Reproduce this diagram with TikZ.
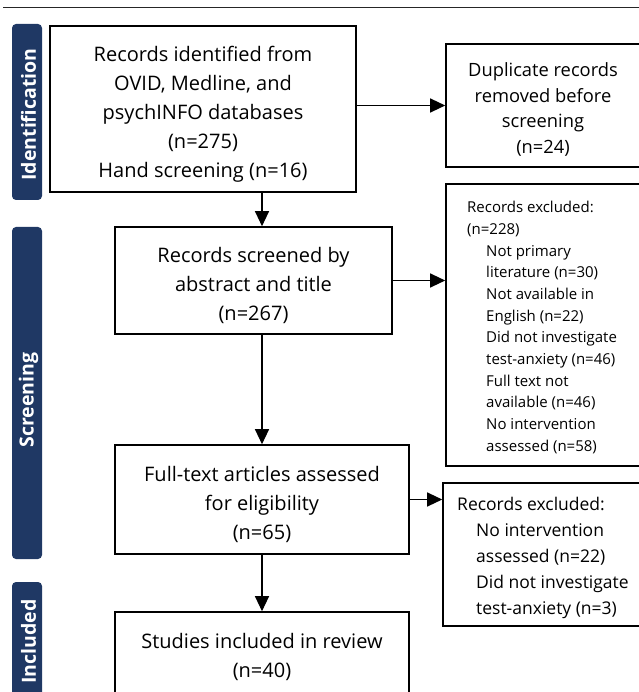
\documentclass[tikz,border=0pt]{standalone}
\usepackage{fontspec}
\setmainfont{Open Sans}
\usetikzlibrary{arrows.meta}
\definecolor{bandblue}{HTML}{1F3864}
\begin{document}
\begin{tikzpicture}[x=1pt,y=-1pt,
  plainbox/.style={draw=black, line width=1.6pt, inner sep=0pt},
  maintext/.style={align=center, inner sep=0pt, font=\fontsize{20}{29}\selectfont},
  listtext/.style={anchor=west, align=left, inner sep=0pt},
  arr/.style={-{Triangle[length=15pt,width=14pt]}, line width=1.2pt},
  band/.style={fill=bandblue, rounded corners=4pt, inner sep=0pt, minimum width=30pt},
  bandlabel/.style={rotate=90, inner sep=0pt, text=white,
    font=\bfseries\fontsize{19.5}{22}\selectfont}
]
\useasboundingbox (0,0) rectangle (638,692);
\draw[line width=1pt, black!85] (3,7.5) -- (645,7.5);

\node[band, minimum height=176pt] (idband) at (27,112) {};
\node[band, minimum height=332pt] (scband) at (27,393) {};
\node[band, minimum height=118pt] (inband) at (27,641) {};
\node[bandlabel] (idlabel) at (28.5,114.5) {Identification};
\node[bandlabel] (sclabel) at (28.5,400) {Screening};
\node[bandlabel] (inlabel) at (28.5,641.5) {Included};

\node[plainbox, minimum width=306pt, minimum height=166pt] (ident) at (203,109) {};
\node[maintext] (identtxt) at (203,114.5)
  {Records identified from\\OVID, Medline, and\\psychINFO databases\\(n=275)\\Hand screening (n=16)};
\node[plainbox, minimum width=194pt, minimum height=123pt] (dup) at (543,105.5) {};
\node[maintext, font=\fontsize{18.3}{25.5}\selectfont] (duptxt) at (543,109.5)
  {Duplicate records\\removed before\\screening\\(n=24)};
\node[plainbox, minimum width=277pt, minimum height=107pt] (screen) at (253.5,280.5) {};
\node[maintext] (screentxt) at (253.5,285.5)
  {Records screened by\\abstract and title\\(n=267)};
\node[plainbox, minimum width=204pt, minimum height=282pt] (excla) at (548,325) {};
\node[listtext, font=\fontsize{15}{21.7}\selectfont] (exclatxt) at (467,327.5)
  {Records excluded:\\(n=228)\\
   \hspace*{19pt}Not primary\\
   \hspace*{19pt}literature (n=30)\\
   \hspace*{19pt}Not available in\\
   \hspace*{19pt}English (n=22)\\
   \hspace*{19pt}Did not investigate\\
   \hspace*{19pt}test-anxiety (n=46)\\
   \hspace*{19pt}Full text not\\
   \hspace*{19pt}available (n=46)\\
   \hspace*{19pt}No intervention\\
   \hspace*{19pt}assessed (n=58)};
\node[plainbox, minimum width=294pt, minimum height=109pt] (full) at (262,499.5) {};
\node[maintext] (fulltxt) at (262,504.5)
  {Full-text articles assessed\\for eligibility\\(n=65)};
\node[plainbox, minimum width=204pt, minimum height=143pt] (exclb) at (545,554.5) {};
\node[listtext, font=\fontsize{17.5}{26}\selectfont] (exclbtxt) at (457,557.5)
  {Records excluded:\\
   \hspace*{19pt}No intervention\\
   \hspace*{19pt}assessed (n=22)\\
   \hspace*{19pt}Did not investigate\\
   \hspace*{19pt}test-anxiety (n=3)};
\node[plainbox, minimum width=294pt, minimum height=83pt] (incl) at (262,653.5) {};
\node[maintext] (incltxt) at (262,656.5)
  {Studies included in review\\(n=40)};

\draw[arr] (ident.south -| full.north) -- (screen.north -| full.north);
\draw[arr] (screen.south -| full.north) -- (full.north);
\draw[arr] (full.south) -- (incl.north);
\draw[arr] (ident.east |- dup.west) -- (dup.west);
\draw[arr] (screen.east) -- (screen.east -| excla.west);
\draw[arr] (full.east) -- (full.east -| exclb.west);
\end{tikzpicture}
\end{document}
